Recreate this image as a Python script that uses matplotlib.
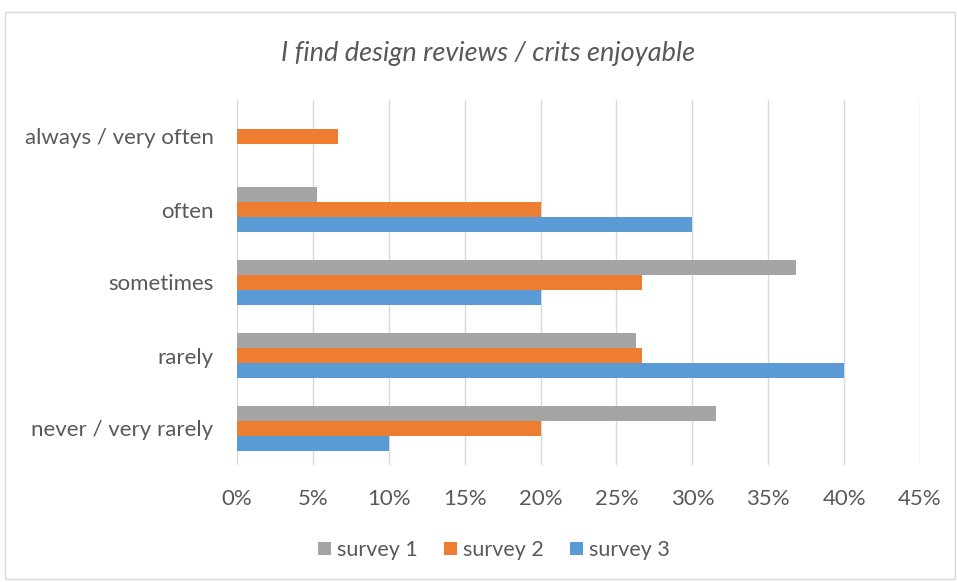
import numpy as np
import matplotlib.pyplot as plt
from matplotlib.patches import Rectangle

# data (bottom to top)
categories = ['never / very rarely', 'rarely', 'sometimes', 'often', 'always / very often']
survey1 = [6 / 19, 5 / 19, 7 / 19, 1 / 19, 0.0]
survey2 = [3 / 15, 4 / 15, 4 / 15, 3 / 15, 1 / 15]
survey3 = [0.10, 0.40, 0.20, 0.30, 0.0]
series_names = ['survey 1', 'survey 2', 'survey 3']
x_ticks = [0, 0.05, 0.10, 0.15, 0.20, 0.25, 0.30, 0.35, 0.40, 0.45]

colors = ['#A5A5A5', '#ED7D31', '#5B9BD5']
text_col = '#595959'
grid_col = '#D9D9D9'

plt.rcParams['font.family'] = ['Lato', 'DejaVu Sans']

fig = plt.figure(figsize=(9.57, 5.82), dpi=100)
ax = fig.add_axes([237 / 957, 1 - 465 / 582, (920 - 237) / 957, (465 - 100) / 582])

# chart border
fig.patches.append(Rectangle((5 / 957, 3 / 582), 950 / 957, 567 / 582, transform=fig.transFigure,
                             fill=False, edgecolor=grid_col, linewidth=1))

y = np.arange(len(categories))
h = 0.205
offsets = [h, 0, -h]
for vals, off, col, name in zip([survey1, survey2, survey3], offsets, colors, series_names):
    ax.barh(y + off, vals, height=h, color=col, label=name, zorder=3)

ax.set_xlim(0, 0.45)
ax.set_ylim(-0.5, len(categories) - 0.5)
ax.set_xticks(x_ticks)
ax.set_xticklabels(['{:.0f}%'.format(t * 100) for t in x_ticks])
ax.set_yticks(y)
ax.set_yticklabels(categories)
ax.tick_params(axis='both', length=0, labelsize=16, colors=text_col)
ax.tick_params(axis='y', pad=17)
ax.tick_params(axis='x', pad=17)
ax.grid(axis='x', color=grid_col, linewidth=1, zorder=0)
for s in ax.spines.values():
    s.set_visible(False)

fig.text(488 / 957, 1 - 53 / 582, 'I find design reviews / crits enjoyable', ha='center', va='center',
         fontsize=19.5, style='italic', color=text_col)

fig.legend(loc='center', bbox_to_anchor=(494 / 957, 1 - 550 / 582), ncol=3, frameon=False,
           fontsize=15.5, handlelength=0.6, handleheight=0.6, handletextpad=0.3, columnspacing=1.2,
           labelcolor=text_col)

plt.savefig('out.png', dpi=100)
